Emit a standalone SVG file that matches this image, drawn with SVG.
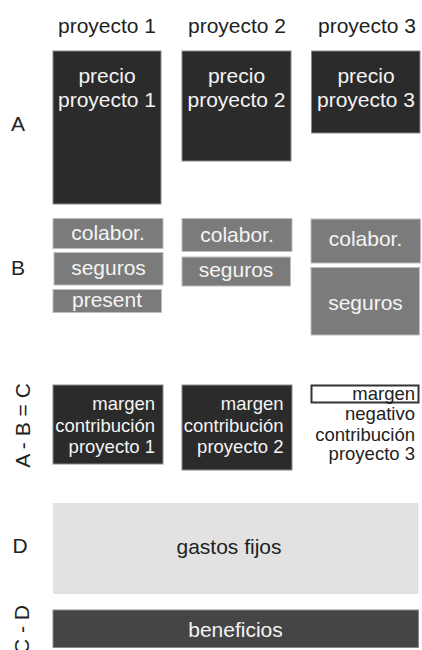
<svg xmlns="http://www.w3.org/2000/svg" width="422" height="650" viewBox="0 0 422 650">
<style>
text{font-family:"Liberation Sans",Arial,sans-serif;font-size:21px}
.hd{fill:#222;text-anchor:middle}
.lb{fill:#222;text-anchor:middle}
.dk{fill:#2b2b2b;stroke:#8a8a8a;stroke-width:1}
.md{fill:#7b7b7b;stroke:#bdbdbd;stroke-width:1}
.wt{fill:#f4f4f4;text-anchor:middle}
.cr{fill:#f4f4f4;text-anchor:end;font-size:18.5px}
.cb{fill:#222;text-anchor:end;font-size:18.5px}
</style>
<rect width="422" height="650" fill="#ffffff"/>
<g id="headers">
<text class="hd" x="107" y="33">proyecto 1</text>
<text class="hd" x="237" y="33">proyecto 2</text>
<text class="hd" x="367" y="33">proyecto 3</text>
</g>
<g id="row-labels">
<text class="lb" x="18" y="131">A</text>
<text class="lb" x="18" y="275">B</text>
<text class="lb" x="20" y="553">D</text>
<text class="lb" transform="translate(30,425.5) rotate(-90)">A - B = C</text>
<text class="lb" style="text-anchor:end" transform="translate(28.5,605) rotate(-90)">C - D</text>
</g>
<g id="precio1"><rect class="dk" x="53" y="51" width="108" height="153"/>
<text class="wt" x="107" y="83">precio</text><text class="wt" x="107" y="107">proyecto 1</text></g>
<g id="precio2"><rect class="dk" x="182" y="51" width="109" height="110"/>
<text class="wt" x="236.5" y="83">precio</text><text class="wt" x="236.5" y="107">proyecto 2</text></g>
<g id="precio3"><rect class="dk" x="311.5" y="51" width="108.5" height="82"/>
<text class="wt" x="366" y="83">precio</text><text class="wt" x="366" y="107">proyecto 3</text></g>
<g id="colabor1"><rect class="md" x="53" y="218.5" width="110" height="30"/><text class="wt" x="108" y="240">colabor.</text></g>
<g id="seguros1"><rect class="md" x="54" y="252.5" width="109" height="32.5"/><text class="wt" x="108.5" y="275">seguros</text></g>
<g id="present1"><rect class="md" x="53" y="289.5" width="108.5" height="23"/><text class="wt" x="107" y="306.5">present</text></g>
<g id="colabor2"><rect class="md" x="182" y="218.5" width="110" height="33"/><text class="wt" x="237" y="241.5">colabor.</text></g>
<g id="seguros2"><rect class="md" x="182" y="257" width="108.5" height="29"/><text class="wt" x="236" y="277">seguros</text></g>
<g id="colabor3"><rect class="md" x="311" y="219" width="109.5" height="44"/><text class="wt" x="365.5" y="246">colabor.</text></g>
<g id="seguros3"><rect class="md" x="311" y="267.5" width="108.5" height="67.5"/><text class="wt" x="365.5" y="310">seguros</text></g>
<g id="margen1"><rect class="dk" x="53" y="385" width="110" height="79"/>
<text class="cr" x="155" y="410">margen</text><text class="cr" x="155" y="431.5">contribución</text><text class="cr" x="155" y="452.5">proyecto 1</text></g>
<g id="margen2"><rect class="dk" x="182" y="385" width="110" height="85"/>
<text class="cr" x="283.5" y="409.5">margen</text><text class="cr" x="283.5" y="431.5">contribución</text><text class="cr" x="283.5" y="453">proyecto 2</text></g>
<g id="margen3"><rect x="311.5" y="385.5" width="107" height="17" fill="#ffffff" stroke="#333" stroke-width="2"/>
<text class="cb" x="415" y="399.5">margen</text><text class="cb" x="415" y="420">negativo</text><text class="cb" x="415" y="441">contribución</text><text class="cb" x="415" y="459.5">proyecto 3</text></g>
<g id="gastos"><rect x="53" y="503" width="365.5" height="91" fill="#e2e2e2"/>
<text x="229" y="553.5" fill="#222" text-anchor="middle">gastos fijos</text></g>
<g id="beneficios"><rect x="53" y="610" width="365.5" height="37.5" fill="#454545" stroke="#8a8a8a" stroke-width="1"/>
<text class="wt" x="235.5" y="637">beneficios</text></g>
</svg>
